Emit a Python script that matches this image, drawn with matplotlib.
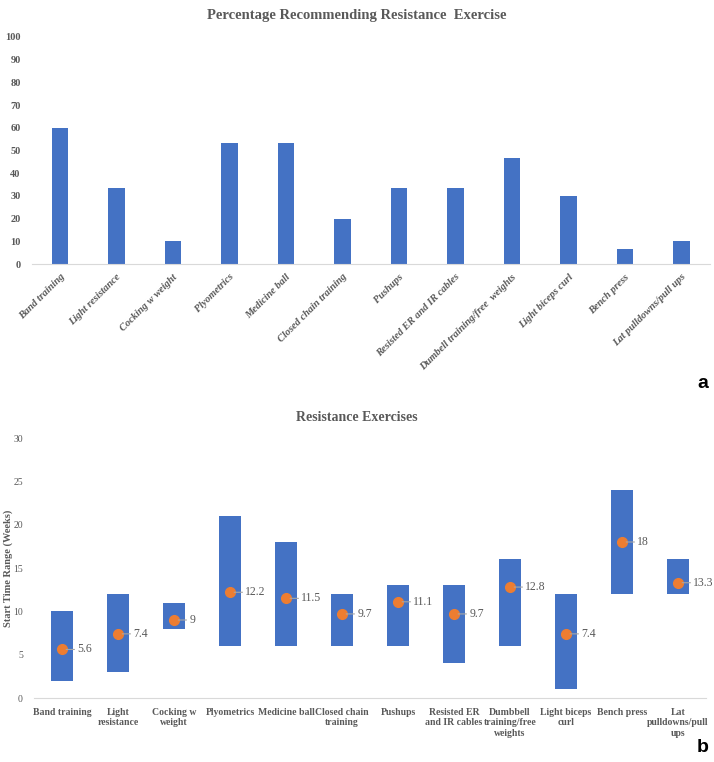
import matplotlib
matplotlib.use('Agg')
import matplotlib.pyplot as plt
import numpy as np

# data
exercises_a = ['Band training', 'Light resistance', 'Cocking w weight', 'Plyometrics', 'Medicine ball',
               'Closed chain training', 'Pushups', 'Resisted ER and IR cables', 'Dumbell training/free  weights',
               'Light biceps curl', 'Bench press', 'Lat pulldowns/pull ups']
percent = [60, 33.3, 10, 53.3, 53.3, 20, 33.3, 33.3, 46.7, 30, 6.7, 10]

exercises_b = ['Band training', 'Light\nresistance', 'Cocking w\nweight', 'Plyometrics', 'Medicine ball',
               'Closed chain\ntraining', 'Pushups', 'Resisted ER\nand IR cables', 'Dumbbell\ntraining/free\nweights',
               'Light biceps\ncurl', 'Bench press', 'Lat\npulldowns/pull\nups']
start_low = [2, 3, 8, 6, 6, 6, 6, 4, 6, 1, 12, 12]
start_high = [10, 12, 11, 21, 18, 12, 13, 13, 16, 12, 24, 16]
start_mean = [5.6, 7.4, 9, 12.2, 11.5, 9.7, 11.1, 9.7, 12.8, 7.4, 18, 13.3]
mean_labels = ['5.6', '7.4', '9', '12.2', '11.5', '9.7', '11.1', '9.7', '12.8', '7.4', '18', '13.3']

blue = '#4472C4'
orange = '#ED7D31'
grey = '#595959'
serif = 'Liberation Serif'

fig = plt.figure(figsize=(7.14, 7.62), dpi=100)

#------------------------------------------------------------------ panel a
ax1 = fig.add_axes([31.7 / 714, 1 - 264 / 762, 678 / 714, 227 / 762])
x = np.arange(len(exercises_a))
ax1.bar(x, percent, width=0.29, color=blue)
ax1.set_xlim(-0.5, len(x) - 0.5)
ax1.set_ylim(0, 100)
ax1.set_yticks(np.arange(0, 101, 10))
ax1.set_xticks(x)
ax1.set_xticklabels(exercises_a, rotation=45, ha='right', rotation_mode='anchor',
                    fontfamily=serif, fontsize=7.5, fontweight='bold', fontstyle='italic', color=grey)
for lab in ax1.get_yticklabels():
    lab.set_fontfamily(serif)
    lab.set_fontsize(7.5)
    lab.set_fontweight('bold')
    lab.set_color(grey)
ax1.tick_params(length=0, pad=8)
ax1.tick_params(axis='x', pad=6)
for s in ['top', 'right', 'left']:
    ax1.spines[s].set_visible(False)
ax1.spines['bottom'].set_color('#D9D9D9')
fig.text(0.5, 1 - 15 / 762, 'Percentage Recommending Resistance  Exercise', ha='center', va='center',
         fontfamily=serif, fontsize=10.5, fontweight='bold', color=grey)
fig.text(703 / 714, 1 - 384 / 762, 'a', ha='center', va='center',
         fontfamily='Liberation Sans', fontsize=14, fontweight='bold', color='black')

#------------------------------------------------------------------ panel b
ax2 = fig.add_axes([34 / 714, 1 - 698 / 762, 672 / 714, 260 / 762])
x = np.arange(len(exercises_b))
heights = [h - l for l, h in zip(start_low, start_high)]
ax2.bar(x, heights, bottom=start_low, width=0.4, color=blue)
ax2.plot(x, start_mean, 'o', color=orange, markersize=7, zorder=3)
for xi, yi, lab in zip(x, start_mean, mean_labels):
    ax2.annotate(lab, (xi, yi), xytext=(11, 0), textcoords='offset points', va='center', ha='left',
                 fontfamily=serif, fontsize=8.5, color=grey,
                 arrowprops=dict(arrowstyle='-', color='#A6A6A6', lw=0.8, shrinkA=0, shrinkB=3))
ax2.set_xlim(-0.5, len(x) - 0.5)
ax2.set_ylim(0, 30)
ax2.set_yticks(np.arange(0, 31, 5))
ax2.set_xticks(x)
ax2.set_xticklabels(exercises_b, fontfamily=serif, fontsize=7, fontweight='bold', color=grey,
                    linespacing=1.25, va='top')
for lab in ax2.get_yticklabels():
    lab.set_fontfamily(serif)
    lab.set_fontsize(7)
    lab.set_color(grey)
ax2.tick_params(length=0, pad=8)
ax2.tick_params(axis='x', pad=7)
for s in ['top', 'right', 'left']:
    ax2.spines[s].set_visible(False)
ax2.spines['bottom'].set_color('#D9D9D9')
fig.text(8 / 714, 1 - 568 / 762, 'Start Time Range (Weeks)', rotation=90, ha='center', va='center',
         fontfamily=serif, fontsize=7.5, fontweight='bold', color=grey)
fig.text(0.5, 1 - 418 / 762, 'Resistance Exercises', ha='center', va='center',
         fontfamily=serif, fontsize=10, fontweight='bold', color=grey)
fig.text(703 / 714, 1 - 748 / 762, 'b', ha='center', va='center',
         fontfamily='Liberation Sans', fontsize=14, fontweight='bold', color='black')

fig.savefig('out.png', dpi=100, facecolor='white')
